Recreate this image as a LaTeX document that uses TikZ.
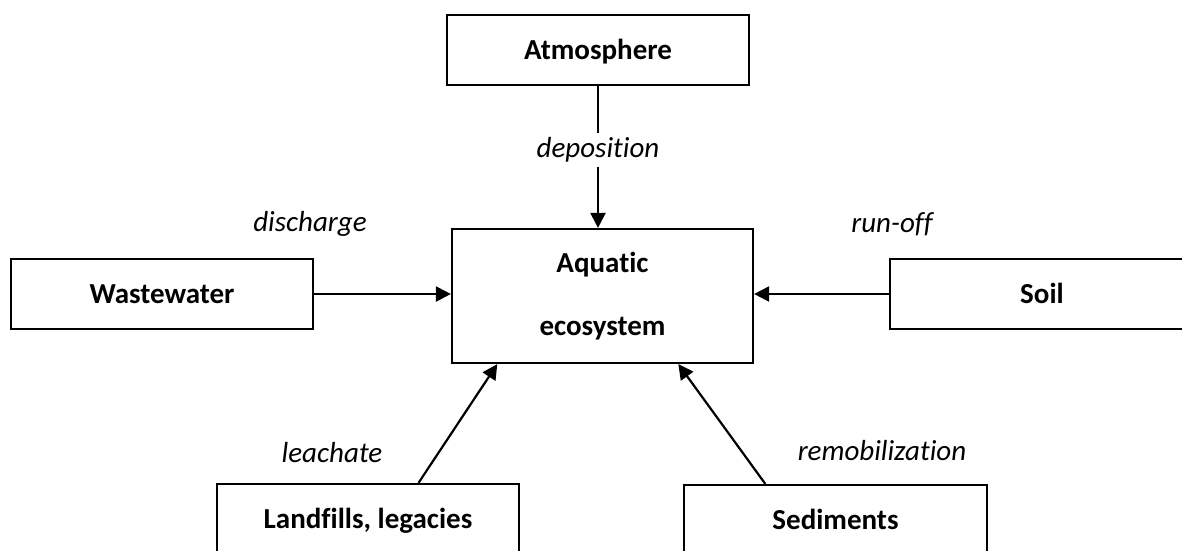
\documentclass[tikz,border=0pt]{standalone}
\usepackage{fontspec}
\setmainfont[RawFeature={-liga;-clig;-calt;-dlig}]{Carlito}
\usetikzlibrary{arrows.meta,calc}
\tikzset{
  box/.style={draw=black,line width=2.2pt,rectangle,inner sep=0pt,minimum width=302pt,minimum height=70pt,font=\fontsize{29}{35}\selectfont\bfseries,fill=white,text height=20pt,text depth=2pt},
  flow/.style={draw=black,line width=2.2pt,-{Triangle[length=15pt,width=15pt]}},
  lbl/.style={font=\fontsize{29}{35}\selectfont\itshape,inner sep=2pt}
}
\begin{document}
\begin{tikzpicture}[x=1pt,y=1pt]
\useasboundingbox (0,0) rectangle (1182,-550);
\node[box] (atm) at (598,-50) {Atmosphere};
\node[box] (ww) at (162,-294) {Wastewater};
\node[box,minimum width=304pt] (soil) at (1042,-294) {Soil};
\node[box,minimum width=301pt,minimum height=134pt,align=center,text height=,text depth=,font=\fontsize{29}{63}\selectfont\bfseries] (aq) at (602.5,-296) {Aquatic\\ecosystem};
\node[box] (lf) at (368,-519) {Landfills, legacies};
\node[box,minimum width=303pt] (sed) at (835.5,-520) {Sediments};
\coordinate (lfa) at ($(lf.north west)!0.666!(lf.north east)$);
\coordinate (aql) at ($(aq.south west)!0.153!(aq.south east)$);
\coordinate (seda) at ($(sed.north west)!0.27!(sed.north east)$);
\coordinate (aqr) at ($(aq.south west)!0.75!(aq.south east)$);
\draw[flow] (atm.south) -- node[lbl,fill=white,inner sep=5pt,pos=0.45] {deposition} (atm.south |- aq.north);
\draw[flow] (ww.east) -- (ww.east -| aq.west);
\draw[flow] (soil.west) -- (soil.west -| aq.east);
\draw[flow] (lfa) -- (aql);
\draw[flow] (seda) -- (aqr);
\node[lbl] (ldis) at (310,-224) {discharge};
\node[lbl] (lrun) at (892,-224) {run-off};
\node[lbl] (lleach) at (332,-453) {leachate};
\node[lbl] (lremob) at (882,-451) {remobilization};
\end{tikzpicture}
\end{document}
